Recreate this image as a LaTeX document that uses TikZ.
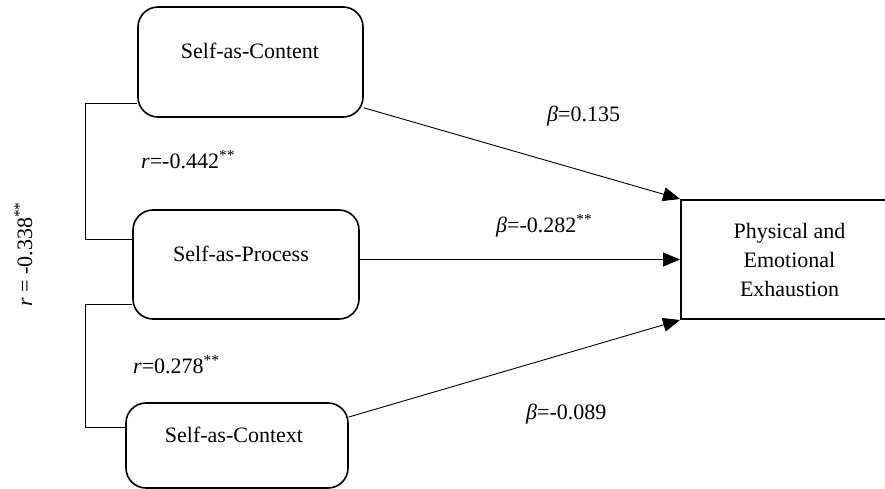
\documentclass[tikz,border=0pt]{standalone}
\usepackage{fontspec}
\setmainfont{Liberation Serif}
\usetikzlibrary{arrows.meta}

\begin{document}
\begin{tikzpicture}[
    x=1pt, y=-1pt,
    font=\fontsize{22}{29}\selectfont,
    factor/.style={rectangle, draw, line width=1.6pt, rounded corners=20pt, inner sep=0pt},
    outcome/.style={rectangle, draw, line width=2pt, align=center, inner sep=0pt},
    coef/.style={inner sep=0pt, anchor=base west},
    effect/.style={draw, line width=0.9pt, -{Triangle[length=17pt, width=14pt]}},
    corr/.style={draw, line width=0.8pt}
]
    \clip (0,0) rectangle (885,489);

    \node [factor, minimum width=225, minimum height=110] (content) at (250.5,62) {};
    \node [factor, minimum width=226, minimum height=109] (process) at (246,264.5) {};
    \node [factor, minimum width=222, minimum height=85] (context) at (237,445.5) {};
    \node [outcome, minimum width=217, minimum height=119] (exhaust) at (789.5,259.5) {Physical and\\Emotional\\Exhaustion};

    \node [inner sep=0pt, anchor=base] (contenttxt) at (250,59) {Self-as-Content};
    \node [inner sep=0pt, anchor=base] (processtxt) at (241,261) {Self-as-Process};
    \node [inner sep=0pt, anchor=base] (contexttxt) at (234,442) {Self-as-Context};

    % correlations
    \draw [corr] ([yshift=14pt]content.south west) -- ++(-52,0) |- ([yshift=25.5pt]process.west);
    \draw [corr] ([yshift=-39.5pt]process.west) -- ++(-47,0) |- ([yshift=18.5pt]context.west);

    \node [coef] (r1) at (141,168) {\textit{r}=-0.442\textsuperscript{**}};
    \node [coef] (r2) at (133,373) {\textit{r}=0.278\textsuperscript{**}};
    \node [coef, rotate=90] (r3) at (32,307) {\textit{r} = -0.338\textsuperscript{**}};

    % regression paths
    \draw [effect] ([yshift=10pt]content.south east) -- (exhaust.north west);
    \draw [effect] (process.east |- exhaust.west) -- (exhaust.west);
    \draw [effect] ([yshift=28.5pt]context.east) -- (exhaust.south west);

    \node [coef] (b1) at (547,122) {\textit{β}=0.135};
    \node [coef] (b2) at (496,232) {\textit{β}=-0.282\textsuperscript{**}};
    \node [coef] (b3) at (526,419) {\textit{β}=-0.089};
\end{tikzpicture}
\end{document}
